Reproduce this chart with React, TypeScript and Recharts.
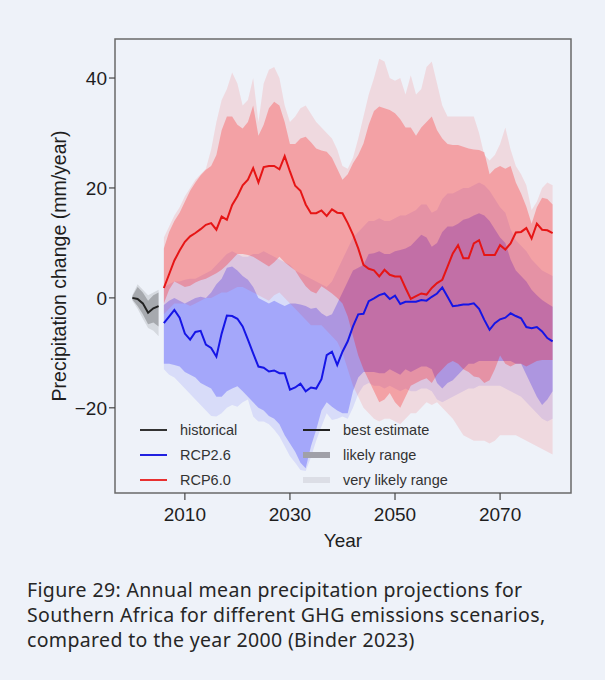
import React from 'react';
import { ComposedChart, Area, Line, XAxis, YAxis, ReferenceArea, Legend } from 'recharts';

// ---- data ----
const histYears = [2000, 2001, 2002, 2003, 2004, 2005];
const histBest = [0, -0.2, -1.0, -2.7, -1.9, -1.5];
const histLikelyLow = [-0.3, -1.5, -3.0, -4.8, -4.5, -5.2];
const histLikelyHigh = [0.3, 2.0, 1.0, -0.5, 0.5, 1.0];
const histVeryLow = [-0.5, -2.0, -3.8, -5.5, -6.0, -7.0];
const histVeryHigh = [0.5, 2.5, 1.5, 0.5, 1.0, 1.5];

const projStart = 2006;

const rcp60Best = [
  1.8, 4.3, 6.8, 8.6, 10.2, 11.2, 11.8, 12.5, 13.3, 13.6,
  12.4, 14.8, 14.2, 16.9, 18.5, 20.5, 21.5, 23.6, 21.0, 23.8,
  24.0, 24.0, 23.4, 25.8, 23.0, 20.4, 19.5, 17.0, 15.4, 15.4,
  15.9, 14.9, 16.1, 15.5, 15.4, 13.6, 11.5, 9.0, 6.0, 5.3,
  5.0, 3.9, 5.1, 4.2, 3.9, 3.9, 1.8, -0.2, 0.3, 0.8,
  0.6, 1.8, 2.7, 3.3, 5.7, 8.1, 9.6, 7.2, 7.2, 9.9,
  10.5, 7.8, 7.8, 7.8, 9.6, 8.8, 9.9, 11.9, 12.0, 12.7,
  10.8, 13.5, 12.4, 12.3, 11.8,
];
const rcp60LikelyHigh = [
  9, 12, 14, 15.5, 17.5, 19.5, 21, 22.3, 23.3, 24,
  26, 30.5, 33, 33, 31.5, 30.8, 32, 35, 29.5, 31.5,
  34.5, 35.7, 35, 32, 28, 28, 29, 29.3, 28.3, 27.2,
  26.8, 26.6, 25.5, 23.5, 21.5, 22.5, 24.5, 26, 28.1, 31.5,
  34, 34.8, 34.5, 34.2, 33.6, 32.5, 31, 31, 29.5, 31,
  32, 33, 30.5, 29, 28, 27.8, 27.8, 27.5, 27.2, 27,
  26.9, 26.5, 22.5, 23.5, 24, 23.5, 24, 21, 19, 16.6,
  13.5, 16.5, 18.2, 18, 17,
];
const rcp60LikelyLow = [
  -1, 1.5, 3, 2.5, 2, 2.2, 2.8, 3.2, 3.5, 4,
  4.5, 5.1, 6, 7, 8, 8, 7.8, 7.5, 6.9, 6.3,
  5.7, 6.5, 7.5, 6.5, 5.7, 5, 3.5, 2.1, 1.2, 0.8,
  2.1, 1.5, 0.8, 0, -1, -3.4, -7, -10.5, -13, -15,
  -17, -19, -18.5, -17.3, -19, -20, -18, -16, -15.5, -15,
  -14.6, -15.5, -14, -13, -12, -11.5, -12, -13, -13.5, -14.3,
  -14.5, -15.5, -15, -13, -10.5, -12, -12.5, -12, -12, -12.5,
  -12, -11.5, -11.3, -11.3, -11.3,
];
const rcp60VeryHigh = [
  11, 13, 15, 16.5, 18.5, 20, 21.5, 22.5, 23.5, 27,
  32, 36, 38, 41, 39, 35, 36, 40, 32, 39,
  41.5, 42, 40, 35, 32, 33, 34.5, 35, 33.5, 32,
  31, 30, 29, 27, 24, 23.5, 25.5, 29, 33, 37,
  40, 43.5, 43, 40, 39.5, 40, 37, 40.5, 37, 38,
  42, 43, 39, 35, 33, 33, 33, 33, 33, 33,
  30, 26, 25, 26, 28, 31, 27, 24, 22.5, 20.5,
  16, 17.5, 20, 21, 20.5,
];
const rcp60VeryLow = [
  -3, -2, -1, -1, -1, -1.5, -1, -0.5, 0, 0,
  0.5, 1, 1, 1.5, 2, 2, 1.5, 1, 0.5, 0,
  -0.5, 0.5, 1, 0, -1, -2, -3, -4, -5, -5,
  -5, -6, -7, -8, -10, -13, -16, -18, -20, -21,
  -22, -22.5, -22, -22, -22.5, -23, -22, -21, -21, -20,
  -19, -19.5, -19, -20, -21, -22, -23.5, -25, -25.5, -26,
  -26, -26, -26.5, -26, -25, -25, -25, -25, -25.5, -26,
  -26.5, -27, -27.5, -28, -28.5,
];

const rcp26Best = [
  -4.6, -3.4, -2.2, -3.6, -6.5, -7.6, -6.2, -6.0, -8.5, -9.1,
  -10.7, -6.5, -3.2, -3.3, -3.8, -5.2, -7.6, -10.1, -12.5, -12.7,
  -13.4, -13.2, -13.7, -13.7, -16.7, -16.3, -15.6, -17.0, -16.3, -16.5,
  -14.8, -10.4, -9.8, -12.2, -9.8, -7.9, -5.2, -3.0, -2.9, -0.6,
  -0.1, 0.5, 0.8, -0.2, 0.4, -1.1, -0.7, -0.7, -0.7, -0.4,
  -0.5, 0.2, 0.8, 1.9, 0.2, -1.5, -1.4, -1.2, -1.2, -1.0,
  -2.0, -4.0, -5.8, -4.6, -3.9, -3.6, -2.8, -3.3, -3.7, -5.3,
  -5.5, -5.3, -6.1, -7.3, -7.9,
];
const rcp26LikelyHigh = [
  -1.3, -0.5, 0, -0.5, -1, -0.5, 0, 0.2, 0, 1,
  2.5, 3.5, 5.5, 5.7, 5, 4, 3.3, 2, 0, -0.5,
  -1, -0.5, -1, -1.5, -1, -1, -1.2, -1.5, -2, -1.8,
  -2.8, -3.4, -3, -1, 1, 3, 5, 5.5, 6, 8,
  8.1, 8.5, 8, 8, 8.5, 8.7, 9, 9.5, 10.5, 11.5,
  11, 9.3, 10, 12, 13, 13, 13.5, 14.2, 14.5, 15,
  15.4, 15, 14, 12.5, 11, 10, 7, 5, 4, 3,
  1.5, 0.5, -0.4, -1, -1.6,
];
const rcp26LikelyLow = [
  -12, -12, -12.2, -12.5, -13.5, -14, -14.5, -15.5, -16, -16.5,
  -18, -18, -17, -16.5, -16.1, -17, -18, -19, -20, -20.5,
  -21.5, -22, -23, -25, -26.5, -28, -30, -31, -27, -24,
  -20.5, -19, -19.8, -20.5, -21, -21, -17, -14.5, -13.5, -13.5,
  -13.5, -13.7, -13.7, -13, -13.5, -14, -13, -13.5, -13, -12.5,
  -12.5, -13, -15.5, -16.5, -15.5, -15, -14, -13, -12, -12,
  -11.5, -11.5, -11.5, -11.5, -11.5, -11.5, -11.5, -12, -12, -14,
  -16, -18, -19.5, -18.5, -17,
];
const rcp26VeryHigh = [
  2, 2.5, 3, 3, 3.3, 3.5, 3.5, 4, 4.5, 5,
  6, 7, 8, 8.5, 8, 7.5, 7.5, 8, 8, 8.5,
  8, 7.5, 7, 6.5, 6, 5, 4.5, 4, 3.5, 3,
  2.5, 2, 3, 5, 7, 9, 11, 12, 13, 14,
  14, 14.5, 14, 14, 14.5, 15, 15, 15.5, 16, 17,
  17, 15.5, 16, 18, 19, 19, 19.5, 20, 20, 20.5,
  21, 20.5, 19.5, 18, 16.5, 15.5, 12.5, 10.5, 9.5, 8.5,
  7, 6, 5, 4.5, 4,
];
const rcp26VeryLow = [
  -13, -14, -14.5, -15.5, -16.5, -17.5, -18.5, -19.5, -20.5, -21.5,
  -21.6, -21, -20, -19.5, -19.8, -19, -18.5, -21.6, -22.5, -22.5,
  -23, -24, -25.2, -27, -28.8, -30, -31.3, -31.5, -29, -26,
  -23.4, -21, -22.2, -22, -21.6, -22, -20, -17.5, -16, -15.5,
  -16, -16, -16.5, -16, -16.5, -17, -16.5, -17, -17, -16.5,
  -16.5, -17, -18.5, -19, -18.5, -18, -17.5, -17, -16.5, -16.5,
  -16, -16, -16, -16, -16, -16.5, -17, -17.5, -18, -19,
  -20, -21, -22, -22.5, -22,
];

const xTicks = [2010, 2030, 2050, 2070];
const yTicks = [-20, 0, 20, 40];

// ---- build table ----
type Row = { [k: string]: any };
const rows: Row[] = [];
histYears.forEach((y, i) => {
  rows.push({
    year: y,
    hist: histBest[i],
    histLikely: [histLikelyLow[i], histLikelyHigh[i]],
    histVery: [histVeryLow[i], histVeryHigh[i]],
  });
});
rcp60Best.forEach((v, i) => {
  rows.push({
    year: projStart + i,
    r60: v,
    r60Likely: [rcp60LikelyLow[i], rcp60LikelyHigh[i]],
    r60Very: [rcp60VeryLow[i], rcp60VeryHigh[i]],
    r26: rcp26Best[i],
    r26Likely: [rcp26LikelyLow[i], rcp26LikelyHigh[i]],
    r26Very: [rcp26VeryLow[i], rcp26VeryHigh[i]],
  });
});

const X_DOMAIN: [number, number] = [1996.7, 2083.5];
const Y_DOMAIN: [number, number] = [-35.5, 47.1];

const AXIS_FONT = '"Liberation Sans", Arial, Helvetica, sans-serif';
const BG = '#eef2f9';

const fmtY = (v: number) => (v < 0 ? '\u2212' + Math.abs(v) : String(v));

const LegendBox = () => (
  <svg width={340} height={80} style={{ display: 'block', overflow: 'visible' }}>
    <g fontFamily={AXIS_FONT} fontSize={14.5} fill="#333">
      <line x1={10} x2={37} y1={15} y2={15} stroke="#333" strokeWidth={2} />
      <text x={50} y={15} dominantBaseline="central">historical</text>
      <line x1={10} x2={37} y1={40} y2={40} stroke="#2020e0" strokeWidth={2} />
      <text x={50} y={40} dominantBaseline="central">RCP2.6</text>
      <line x1={10} x2={37} y1={65} y2={65} stroke="#e83030" strokeWidth={2} />
      <text x={50} y={65} dominantBaseline="central">RCP6.0</text>
      <line x1={173} x2={200} y1={15} y2={15} stroke="#222" strokeWidth={2} />
      <text x={213} y={15} dominantBaseline="central">best estimate</text>
      <line x1={173} x2={200} y1={40} y2={40} stroke="#a0a0a8" strokeWidth={6} />
      <text x={213} y={40} dominantBaseline="central">likely range</text>
      <line x1={173} x2={200} y1={65} y2={65} stroke="#dcdee6" strokeWidth={6} />
      <text x={213} y={65} dominantBaseline="central">very likely range</text>
    </g>
  </svg>
);

export default function App() {
  return (
    <div
      style={{
        position: 'absolute',
        left: 0,
        top: 0,
        width: 611,
        height: 680,
        background: '#ffffff',
      }}
    >
      <div style={{ position: 'absolute', left: 0, top: 0, width: 605, height: 680, background: BG }} />
      <div style={{ position: 'absolute', left: 0, top: 0 }}>
        <ComposedChart
          width={611}
          height={560}
          data={rows}
          margin={{ top: 39, right: 40, bottom: 0, left: 0 }}
        >
          <XAxis
            dataKey="year"
            type="number"
            domain={X_DOMAIN}
            ticks={xTicks}
            allowDataOverflow
            height={67}
            axisLine={false}
            tickSize={7}
            tickMargin={8}
            tickLine={{ stroke: '#444', strokeWidth: 1.2 }}
            tick={{ fontSize: 19, fill: '#1e1e1e', fontFamily: AXIS_FONT }}
            label={{
              value: 'Year',
              position: 'insideBottom',
              offset: 13,
              style: { fontSize: 19, fill: '#1e1e1e', fontFamily: AXIS_FONT },
            }}
          />
          <YAxis
            type="number"
            domain={Y_DOMAIN}
            ticks={yTicks}
            allowDataOverflow
            width={115}
            axisLine={false}
            tickSize={6}
            tickMargin={2}
            tickFormatter={fmtY}
            tickLine={{ stroke: '#444', strokeWidth: 1.2 }}
            tick={{ fontSize: 19, fill: '#1e1e1e', fontFamily: AXIS_FONT }}
            label={{
              value: 'Precipitation change (mm/year)',
              angle: -90,
              position: 'center',
              dx: 2,
              style: { fontSize: 19.5, fill: '#1e1e1e', fontFamily: AXIS_FONT, textAnchor: 'middle' },
            }}
          />

          <Area dataKey="histVery" type="linear" stroke="none" fill="#000000" fillOpacity={0.1} isAnimationActive={false} />
          <Area dataKey="histLikely" type="linear" stroke="none" fill="#000000" fillOpacity={0.22} isAnimationActive={false} />

          <Area dataKey="r26Very" type="linear" stroke="none" fill="#0000ff" fillOpacity={0.09} isAnimationActive={false} />
          <Area dataKey="r26Likely" type="linear" stroke="none" fill="#0000ff" fillOpacity={0.24} isAnimationActive={false} />
          <Area dataKey="r60Very" type="linear" stroke="none" fill="#ff0000" fillOpacity={0.1} isAnimationActive={false} />
          <Area dataKey="r60Likely" type="linear" stroke="none" fill="#ff0000" fillOpacity={0.26} isAnimationActive={false} />

          <Line dataKey="hist" type="linear" stroke="#222222" strokeWidth={2} dot={false} isAnimationActive={false} />
          <Line dataKey="r26" type="linear" stroke="#1515e6" strokeWidth={2} dot={false} isAnimationActive={false} />
          <Line dataKey="r60" type="linear" stroke="#e61515" strokeWidth={2} dot={false} isAnimationActive={false} />

          <ReferenceArea
            x1={X_DOMAIN[0]}
            x2={X_DOMAIN[1]}
            y1={Y_DOMAIN[0]}
            y2={Y_DOMAIN[1]}
            fill="none"
            stroke="#6a6a6a"
            strokeWidth={1.5}
            ifOverflow="visible"
          />

          <Legend
            layout="horizontal"
            align="center"
            verticalAlign="middle"
            wrapperStyle={{ left: 130, top: 415, width: 340, height: 80 }}
            content={() => <LegendBox />}
          />
        </ComposedChart>
      </div>
      <div
        style={{
          position: 'absolute',
          left: 27,
          top: 577,
          width: 575,
          fontFamily: '"Noto Sans", "Open Sans", sans-serif',
          fontSize: 19.5,
          letterSpacing: '0.35px',
          lineHeight: '25px',
          color: '#262626',
          whiteSpace: 'nowrap',
        }}
      >
        Figure 29: Annual mean precipitation projections for
        <br />
        Southern Africa for different GHG emissions scenarios,
        <br />
        compared to the year 2000 (Binder 2023)
      </div>
    </div>
  );
}
